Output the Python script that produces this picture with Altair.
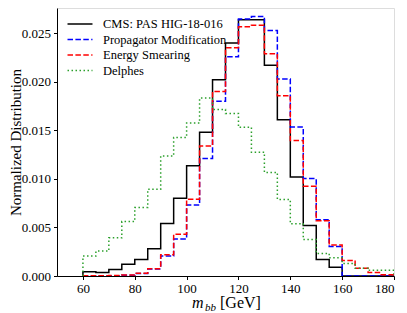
import altair as alt
import pandas as pd

# bin edges (5 GeV bins from 60 to 180)
bin_left = [60, 65, 70, 75, 80, 85, 90, 95, 100, 105, 110, 115,
            120, 125, 130, 135, 140, 145, 150, 155, 160, 165, 170, 175]
bin_right_end = 180

series = ["CMS: PAS HIG-18-016", "Propagator Modification", "Energy Smearing", "Delphes"]
colors = ["#000000", "#0000ff", "#ff0000", "#2ca02c"]
dashes = [[1, 0], [5.5, 2.4], [5.5, 2.4], [1.5, 2.5]]

cms = [0.00045, 0.00035, 0.00066, 0.0012, 0.0017, 0.0028, 0.0054, 0.0080,
       0.01135, 0.0148, 0.0202, 0.0240, 0.0264, 0.0264, 0.0217, 0.0161,
       0.0102, 0.0052, 0.0017, 0.0009, 0.0, 0.0, 0.0, 0.0]
propagator = [0.00001, 0.00002, 0.00003, 0.00008, 0.00026, 0.00072, 0.00205, 0.0038,
              0.0073, 0.0121, 0.0180, 0.02257, 0.02646, 0.02673, 0.02528, 0.02028,
              0.01534, 0.01003, 0.0058, 0.00305, 0.0, 0.0, 0.0, 0.0]
smearing = [0.00002, 0.00003, 0.00005, 0.0001, 0.00028, 0.00075, 0.0022, 0.0043,
            0.0079, 0.0134, 0.0190, 0.0235, 0.02566, 0.02583, 0.02288, 0.01857,
            0.01396, 0.00924, 0.0057, 0.0032, 0.0016, 0.0008, 0.00035, 0.00014]
delphes = [0.00205, 0.00257, 0.00393, 0.0056, 0.00705, 0.00893, 0.01236, 0.01427,
           0.01576, 0.01833, 0.01715, 0.01674, 0.01531, 0.01274, 0.01066, 0.00788,
           0.00538, 0.00375, 0.00233, 0.00188, 0.00128, 0.0008, 0.00059, 0.00059]

y_ticks = [0.0, 0.005, 0.010, 0.015, 0.020, 0.025]
x_ticks = [60, 80, 100, 120, 140, 160, 180]

rows = []
for s, vals in zip(series, [cms, propagator, smearing, delphes]):
    pts = [(bin_left[0], 0.0)]
    pts += list(zip(bin_left, vals))
    pts += [(bin_right_end, vals[-1]), (bin_right_end, 0.0)]
    for i, (x, y) in enumerate(pts):
        rows.append({"series": s, "x": x, "y": y, "idx": i})
df = pd.DataFrame(rows)

FONT = "Liberation Serif"

lines = alt.Chart(df).mark_line(interpolate="step-after", strokeWidth=1.5, clip=True).encode(
    x=alt.X("x:Q", scale=alt.Scale(domain=[50, 180], nice=False, zero=False),
            axis=alt.Axis(values=x_ticks, title=None, format="d", grid=False,
                          tickSize=3.5, labelPadding=3, labelFontSize=13,
                          labelFont=FONT, labelColor="#000", tickColor="#000",
                          domainColor="#000")),
    y=alt.Y("y:Q", scale=alt.Scale(domain=[0, 0.0276], nice=False),
            axis=alt.Axis(values=y_ticks, format=".3f", title="Normalized Distribution",
                          grid=False, tickSize=3.5, labelPadding=3, labelFontSize=13,
                          labelFont=FONT, labelColor="#000", tickColor="#000",
                          domainColor="#000", titleFont=FONT, titleFontSize=15,
                          titleFontWeight="normal", titleColor="#000",
                          titleX=-37, titleBaseline="alphabetic")),
    color=alt.Color("series:N", scale=alt.Scale(domain=series, range=colors),
                    legend=alt.Legend(title=None, orient="none", legendX=16, legendY=9,
                                      symbolType="M-2,0H2", symbolSize=156,
                                      symbolStrokeWidth=1.5, labelFont=FONT,
                                      labelFontSize=12.5, labelColor="#000",
                                      labelOffset=16, rowPadding=1.5, padding=0)),
    strokeDash=alt.StrokeDash("series:N", scale=alt.Scale(domain=series, range=dashes),
                              legend=None),
    order="idx:Q",
    detail="series:N",
)

title_m = alt.Chart(pd.DataFrame({"t": ["m"]})).mark_text(
    font=FONT, fontSize=16, fontStyle="italic", align="left", baseline="alphabetic", color="#000"
).encode(text="t:N", x=alt.value(135), y=alt.value(300))
title_bb = alt.Chart(pd.DataFrame({"t": ["bb"]})).mark_text(
    font=FONT, fontSize=11, fontStyle="italic", align="left", baseline="alphabetic", color="#000"
).encode(text="t:N", x=alt.value(148), y=alt.value(303))
title_gev = alt.Chart(pd.DataFrame({"t": ["[GeV]"]})).mark_text(
    font=FONT, fontSize=16, align="left", baseline="alphabetic", color="#000"
).encode(text="t:N", x=alt.value(163), y=alt.value(300))

chart = alt.layer(lines, title_m, title_bb, title_gev).properties(
    width=337, height=268,
    autosize=alt.AutoSizeParams(type="none"),
    padding={"left": 49, "top": 0, "right": 5, "bottom": 37},
).configure_view(stroke="#000", strokeWidth=1).configure(
    background="white", font=FONT
).configure_axis(labelFont=FONT, titleFont=FONT).configure_legend(labelFont=FONT)

chart.save("out.html", embed_options={"renderer": "svg", "actions": False})
